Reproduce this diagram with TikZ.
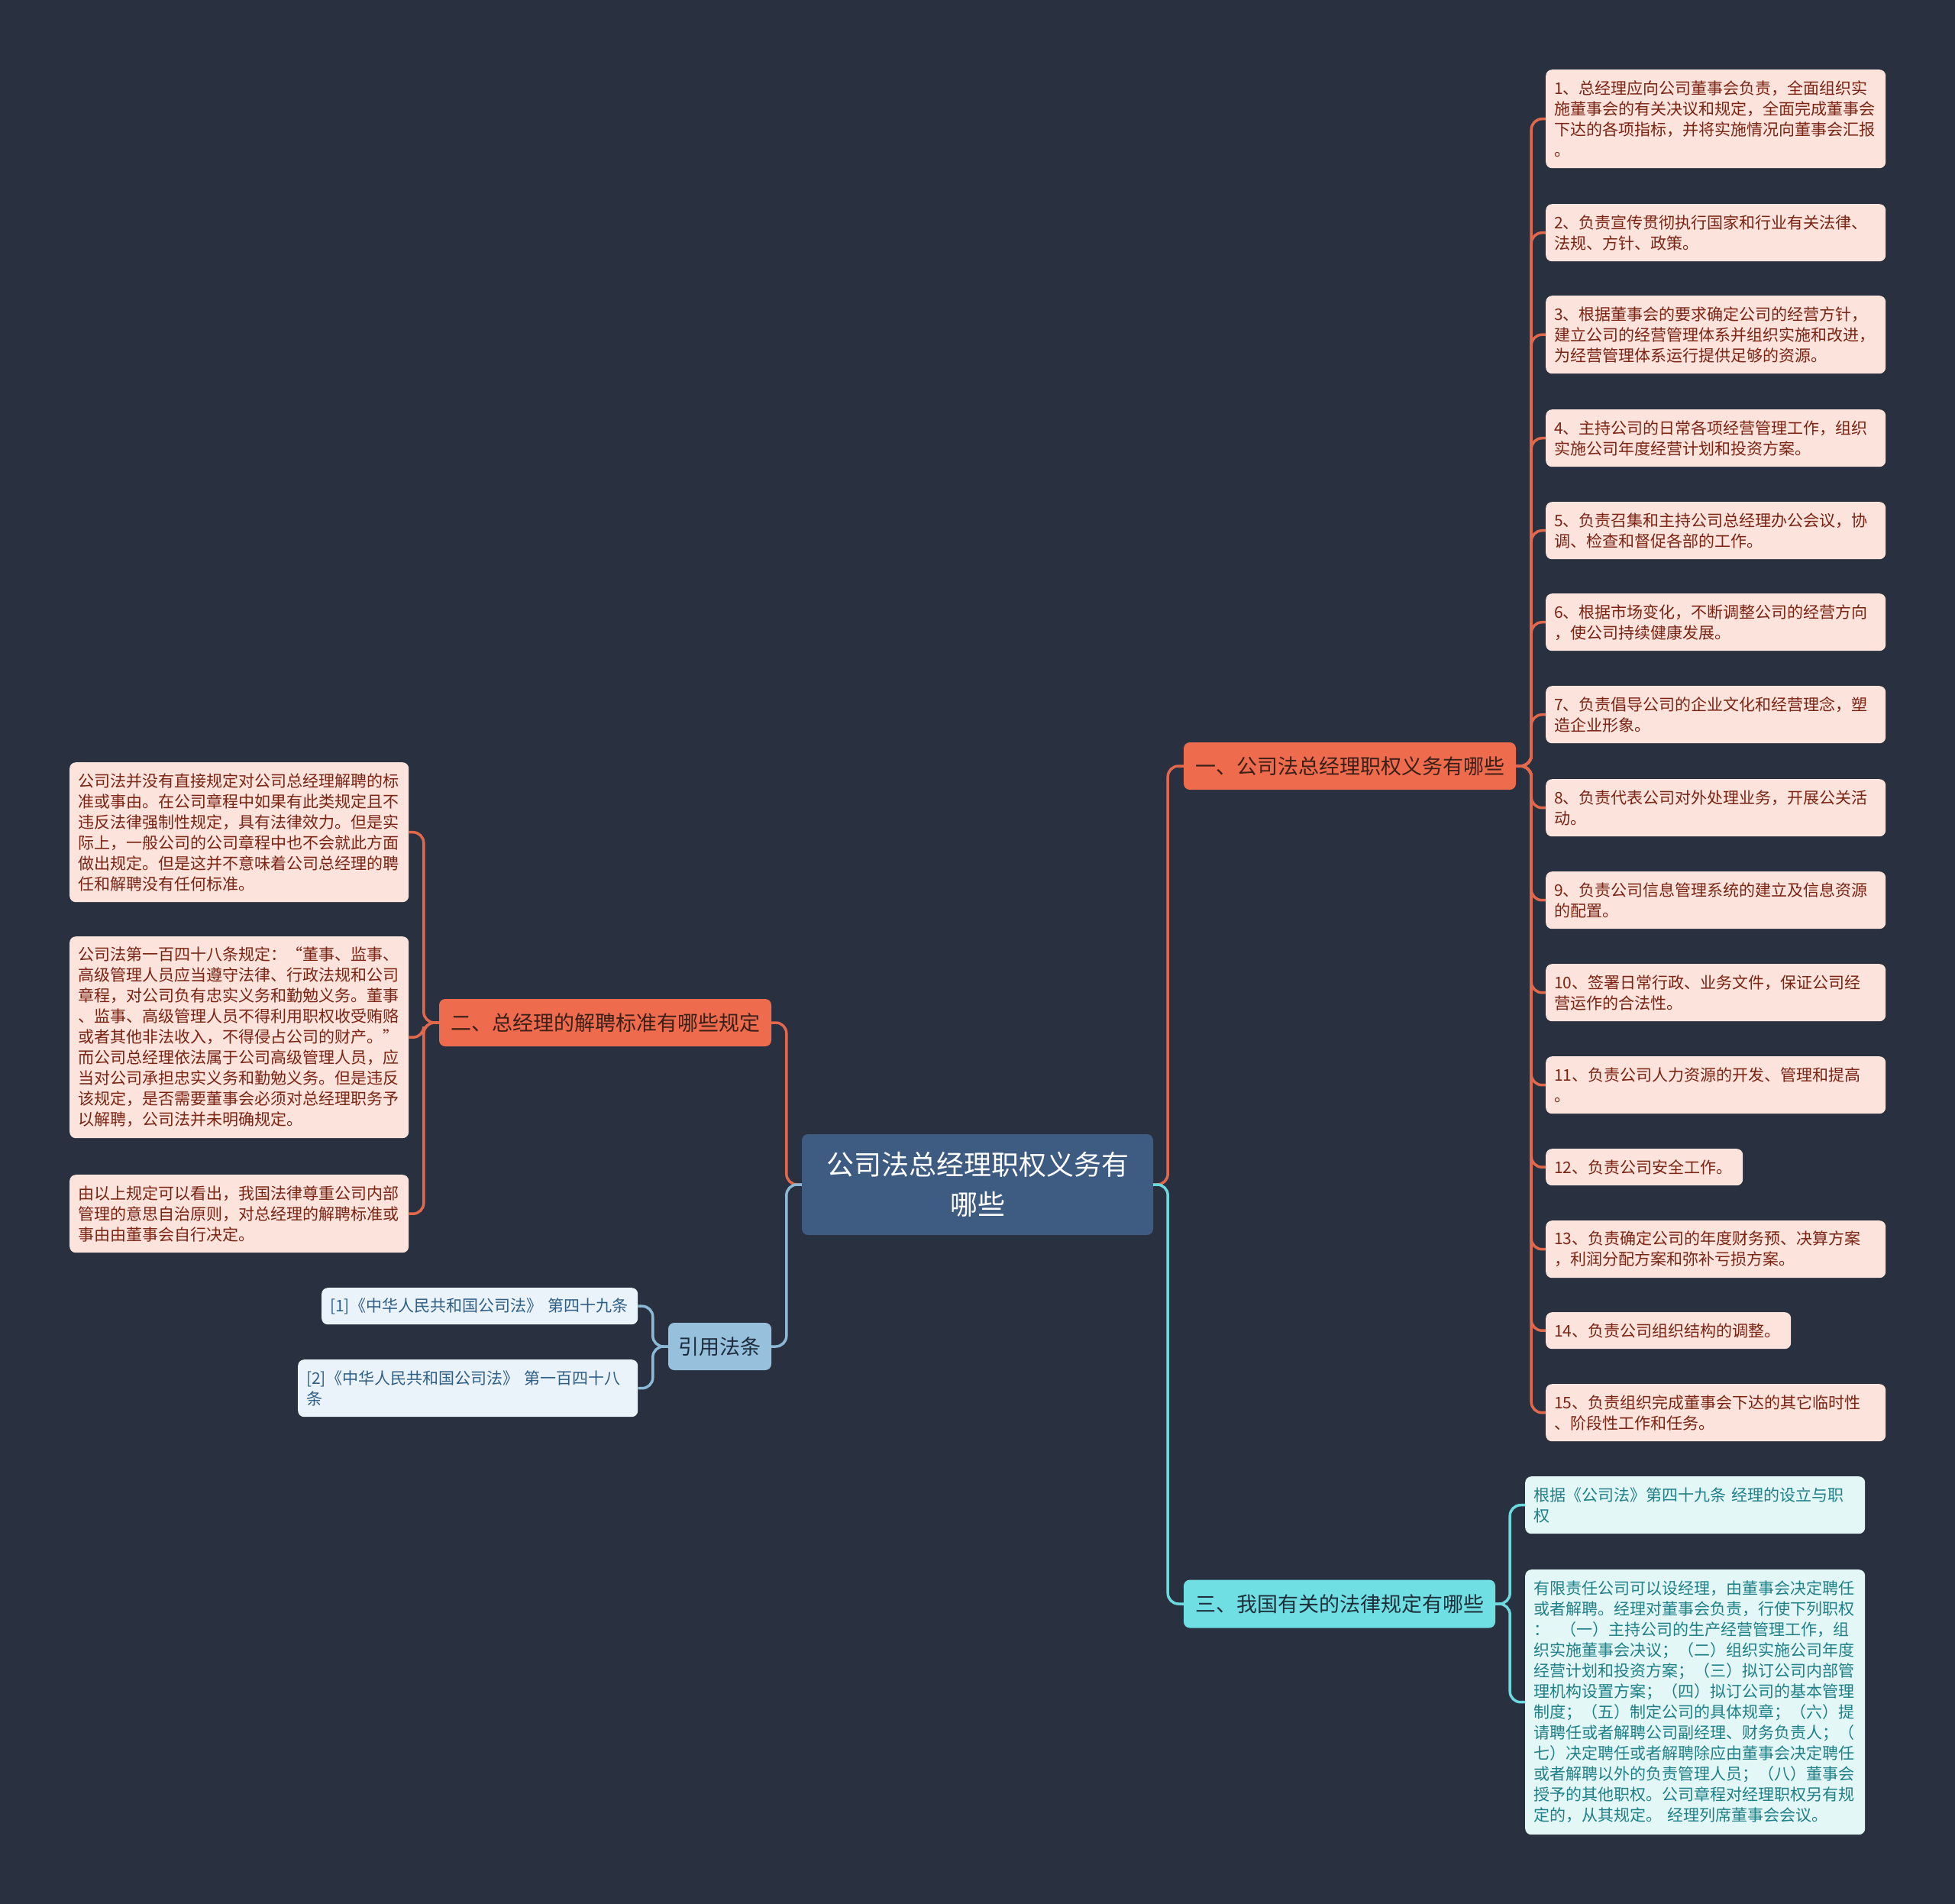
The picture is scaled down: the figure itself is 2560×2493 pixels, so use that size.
\documentclass[tikz,border=0pt]{standalone}
\usepackage{fontspec}
\setmainfont{Noto Sans CJK SC}
\definecolor{bgc}{HTML}{293140}
\definecolor{rootfill}{HTML}{3E5B82}
\definecolor{redfill}{HTML}{EE6B4E}
\definecolor{redline}{HTML}{E2684B}
\definecolor{redleaf}{HTML}{FCE3DC}
\definecolor{redtext}{HTML}{7A2414}
\definecolor{redbtext}{HTML}{3B2018}
\definecolor{cyanfill}{HTML}{70DFE3}
\definecolor{cyanline}{HTML}{6CD9DF}
\definecolor{cyanleaf}{HTML}{E4F7F7}
\definecolor{cyantext}{HTML}{1F8087}
\definecolor{cyanbtext}{HTML}{1D2F3A}
\definecolor{citefill}{HTML}{96C0DC}
\definecolor{citeline}{HTML}{8CB8D6}
\definecolor{citeleaf}{HTML}{EAF3F9}
\definecolor{citetext}{HTML}{2F5E86}
\definecolor{citebtext}{HTML}{1E2D3D}
\tikzset{
  rootnode/.style={fill=rootfill, text=white, rounded corners=8pt, minimum width=460pt, minimum height=132pt, align=center, inner sep=0pt, font=\fontsize{36}{52}\selectfont},
  branchnode/.style={rounded corners=8pt, minimum height=62pt, inner sep=0pt, align=center, font=\fontsize{27}{34}\selectfont},
  leafnode/.style={rounded corners=8pt, inner xsep=11pt, inner ysep=0pt, align=left, anchor=north west, font=\fontsize{21}{27}\selectfont},
  redleafnode/.style={leafnode, fill=redleaf, text=redtext},
  cyanleafnode/.style={leafnode, fill=cyanleaf, text=cyantext},
  citeleafnode/.style={leafnode, fill=citeleaf, text=citetext},
  conn/.style={line width=3.5pt, rounded corners=14pt},
  redconn/.style={conn, draw=redline},
  cyanconn/.style={conn, draw=cyanline},
  citeconn/.style={conn, draw=citeline},
}
\begin{document}
\begin{tikzpicture}[x=1pt,y=-1pt]
\fill[bgc] (0,0) rectangle (2560,2493);
\useasboundingbox (0,0) rectangle (2560,2493);

% root and branches
\node[rootnode] (root) at (1280,1551) {公司法总经理职权义务有\\哪些};
\node[branchnode, fill=redfill, text=redbtext, minimum width=435pt] (b1) at (1767.5,1003) {一、公司法总经理职权义务有哪些};
\node[branchnode, fill=redfill, text=redbtext, minimum width=435pt] (b2) at (792.5,1339) {二、总经理的解聘标准有哪些规定};
\node[branchnode, fill=cyanfill, text=cyanbtext, minimum width=408pt, minimum height=63pt] (b3) at (1754,2100) {三、我国有关的法律规定有哪些};
\node[branchnode, fill=citefill, text=citebtext, minimum width=135pt] (cite) at (942.5,1763) {引用法条};

% right leaves of branch 1
\node[redleafnode, text width=423pt, minimum height=129pt] (r1) at (2024,91) {1、总经理应向公司董事会负责，全面组织实\\施董事会的有关决议和规定，全面完成董事会\\下达的各项指标，并将实施情况向董事会汇报\\。};
\node[redleafnode, text width=423pt, minimum height=75pt] (r2) at (2024,267) {2、负责宣传贯彻执行国家和行业有关法律、\\法规、方针、政策。};
\node[redleafnode, text width=423pt, minimum height=102pt] (r3) at (2024,387) {3、根据董事会的要求确定公司的经营方针，\\建立公司的经营管理体系并组织实施和改进，\\为经营管理体系运行提供足够的资源。};
\node[redleafnode, text width=423pt, minimum height=75pt] (r4) at (2024,536) {4、主持公司的日常各项经营管理工作，组织\\实施公司年度经营计划和投资方案。};
\node[redleafnode, text width=423pt, minimum height=75pt] (r5) at (2024,657) {5、负责召集和主持公司总经理办公会议，协\\调、检查和督促各部的工作。};
\node[redleafnode, text width=423pt, minimum height=75pt] (r6) at (2024,777) {6、根据市场变化，不断调整公司的经营方向\\，使公司持续健康发展。};
\node[redleafnode, text width=423pt, minimum height=75pt] (r7) at (2024,898) {7、负责倡导公司的企业文化和经营理念，塑\\造企业形象。};
\node[redleafnode, text width=423pt, minimum height=75pt] (r8) at (2024,1020) {8、负责代表公司对外处理业务，开展公关活\\动。};
\node[redleafnode, text width=423pt, minimum height=75pt] (r9) at (2024,1141) {9、负责公司信息管理系统的建立及信息资源\\的配置。};
\node[redleafnode, text width=423pt, minimum height=75pt] (r10) at (2024,1262) {10、签署日常行政、业务文件，保证公司经\\营运作的合法性。};
\node[redleafnode, text width=423pt, minimum height=75pt] (r11) at (2024,1383) {11、负责公司人力资源的开发、管理和提高\\。};
\node[redleafnode, text width=236pt, minimum height=48pt] (r12) at (2024,1504) {12、负责公司安全工作。};
\node[redleafnode, text width=423pt, minimum height=75pt] (r13) at (2024,1598) {13、负责确定公司的年度财务预、决算方案\\，利润分配方案和弥补亏损方案。};
\node[redleafnode, text width=299pt, minimum height=48pt] (r14) at (2024,1718) {14、负责公司组织结构的调整。};
\node[redleafnode, text width=423pt, minimum height=75pt] (r15) at (2024,1812) {15、负责组织完成董事会下达的其它临时性\\、阶段性工作和任务。};

% left leaves of branch 2
\node[redleafnode, text width=422pt, minimum height=183pt] (l1) at (91,998) {公司法并没有直接规定对公司总经理解聘的标\\准或事由。在公司章程中如果有此类规定且不\\违反法律强制性规定，具有法律效力。但是实\\际上，一般公司的公司章程中也不会就此方面\\做出规定。但是这并不意味着公司总经理的聘\\任和解聘没有任何标准。};
\node[redleafnode, text width=422pt, minimum height=264pt] (l2) at (91,1226) {公司法第一百四十八条规定：“董事、监事、\\高级管理人员应当遵守法律、行政法规和公司\\章程，对公司负有忠实义务和勤勉义务。董事\\、监事、高级管理人员不得利用职权收受贿赂\\或者其他非法收入，不得侵占公司的财产。”\\而公司总经理依法属于公司高级管理人员，应\\当对公司承担忠实义务和勤勉义务。但是违反\\该规定，是否需要董事会必须对总经理职务予\\以解聘，公司法并未明确规定。};
\node[redleafnode, text width=422pt, minimum height=102pt] (l3) at (91,1538) {由以上规定可以看出，我国法律尊重公司内部\\管理的意思自治原则，对总经理的解聘标准或\\事由由董事会自行决定。};

% leaves of branch 3
\node[cyanleafnode, text width=423pt, minimum height=75pt] (ca) at (1997,1933) {根据《公司法》第四十九条 经理的设立与职\\权};
\node[cyanleafnode, text width=423pt, minimum height=347pt] (cb) at (1997,2055) {有限责任公司可以设经理，由董事会决定聘任\\或者解聘。经理对董事会负责，行使下列职权\\：\ \ （一）主持公司的生产经营管理工作，组\\织实施董事会决议；（二）组织实施公司年度\\经营计划和投资方案；（三）拟订公司内部管\\理机构设置方案；（四）拟订公司的基本管理\\制度；（五）制定公司的具体规章；（六）提\\请聘任或者解聘公司副经理、财务负责人；（\\七）决定聘任或者解聘除应由董事会决定聘任\\或者解聘以外的负责管理人员；（八）董事会\\授予的其他职权。公司章程对经理职权另有规\\定的，从其规定。 经理列席董事会会议。};

% citation leaves
\node[citeleafnode, text width=392pt, minimum height=48pt] (c1) at (421,1686) {[1]《中华人民共和国公司法》 第四十九条};
\node[citeleafnode, text width=423pt, minimum height=75pt] (c2) at (390,1780) {[2]《中华人民共和国公司法》 第一百四十八\\条};

% connectors from root
\draw[redconn] (root.east) -- ++(19,0) |- (b1.west);
\draw[cyanconn] (root.east) -- ++(19,0) |- (b3.west);
\draw[redconn] (root.west) -- ++(-20,0) |- (b2.east);
\draw[citeconn] (root.west) -- ++(-20,0) |- (cite.east);

% branch 1 to leaves
\foreach \i in {1,...,15} {
  \draw[redconn] (b1.east) -- ++(20,0) |- (r\i.west);
}
% branch 2 to leaves
\foreach \i in {1,2,3} {
  \draw[redconn] (b2.west) -- ++(-20,0) |- (l\i.east);
}
% branch 3 to leaves
\draw[cyanconn] (b3.east) -- ++(19,0) |- (ca.west);
\draw[cyanconn] (b3.east) -- ++(19,0) |- (cb.west);
% citations
\draw[citeconn] (cite.west) -- ++(-20,0) |- (c1.east);
\draw[citeconn] (cite.west) -- ++(-20,0) |- (c2.east);
\end{tikzpicture}
\end{document}
